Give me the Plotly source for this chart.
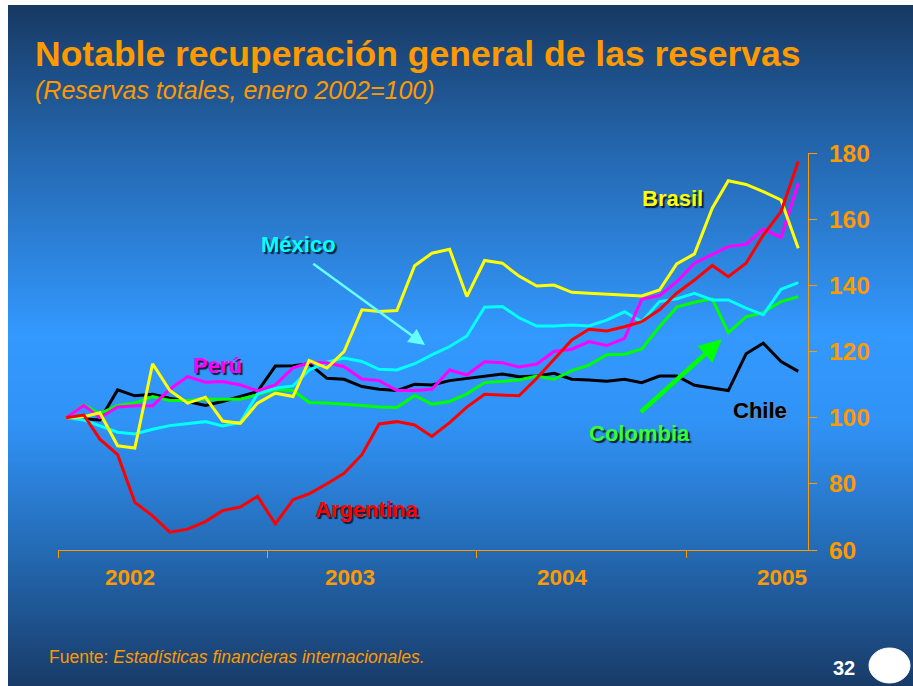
import base64
import struct
import zlib

import numpy as np
import plotly.graph_objects as go

# ---------------- data ----------------
months = [f"{y}-{m:02d}-15" for y in range(2002, 2006) for m in range(1, 13)][:43]

argentina = [100, 100.8, 93.5, 88.8, 74.4, 70.3, 65.4, 66.3, 68.6, 71.9, 73.0, 76.2,
             67.9, 75.2, 77.0, 80.0, 83.2, 88.8, 98.1, 98.8, 97.8, 94.3, 98.5, 103.2,
             107.1, 106.9, 106.6, 111.9, 117.5, 123.5, 126.7, 126.2, 127.5, 129.0, 132.6, 137.6,
             141.6, 146.0, 142.6, 146.7, 155.2, 162.3, 177.4]
brasil = [100, 100.3, 101.5, 91.5, 90.8, 116.3, 108.2, 104.4, 106.2, 99.0, 98.3, 104.4,
          107.4, 106.4, 117.3, 115.0, 120.0, 132.6, 132.1, 132.4, 145.9, 149.7, 150.9, 136.6,
          147.5, 146.7, 142.8, 139.8, 140.1, 137.9, 137.6, 137.3, 137.0, 136.8, 138.6, 146.5,
          149.5, 163.3, 171.6, 170.5, 168.3, 165.8, 151.2]
chile = [100, 99.7, 99.3, 108.4, 106.6, 107.1, 105.9, 104.9, 103.7, 104.9, 106.4, 107.9,
         115.6, 115.7, 116.3, 111.9, 111.6, 109.4, 108.6, 108.2, 110.1, 109.9, 111.2, 111.9,
         112.7, 113.2, 112.4, 112.6, 113.4, 111.6, 111.4, 111.0, 111.6, 110.6, 112.6, 112.6,
         109.8, 109.0, 108.2, 119.3, 122.5, 117.0, 114.0]
colombia = [100, 103.9, 101.2, 103.7, 104.4, 106.4, 105.2, 105.2, 105.6, 105.5, 105.6, 106.9,
            108.6, 108.2, 104.6, 104.4, 104.1, 103.7, 103.2, 103.1, 106.7, 104.1, 104.9, 107.2,
            110.6, 111.1, 111.4, 112.6, 111.6, 114.2, 115.9, 119.0, 119.2, 120.8, 127.5, 133.4,
            134.9, 135.9, 125.7, 130.5, 131.8, 135.1, 136.6]
mexico = [100, 99.3, 97.5, 95.6, 95.1, 96.5, 97.6, 98.3, 98.8, 97.5, 98.6, 107.2,
          108.9, 109.6, 114.4, 116.8, 118.0, 117.0, 114.6, 114.4, 116.3, 119.0, 121.5, 124.7,
          133.4, 133.6, 130.2, 127.7, 127.7, 128.0, 127.7, 129.5, 132.0, 129.0, 135.1, 135.9,
          137.6, 135.6, 135.6, 133.1, 131.1, 138.8, 140.8]
peru = [100, 103.7, 100.0, 103.2, 103.6, 103.6, 108.6, 112.4, 110.7, 110.9, 109.9, 108.1,
        109.9, 115.1, 116.6, 116.6, 115.4, 111.7, 111.2, 108.2, 108.2, 108.6, 114.4, 112.9,
        116.9, 116.6, 115.3, 116.2, 120.0, 120.7, 123.0, 121.8, 124.0, 135.8, 136.9, 141.1,
        146.7, 149.2, 151.7, 152.4, 157.0, 154.5, 170.8]

year_labels = ["2002", "2003", "2004", "2005"]
year_bounds = ["2002-01-01", "2003-01-01", "2004-01-01", "2005-01-01"]
y_ticks = [60, 80, 100, 120, 140, 160, 180]

# ---------------- layout helpers ----------------
W, H = 913, 686
L, R, T, B = 58, 808, 153, 550   # plot area in pixels


def px(xp):
    return (xp - L) / (R - L)


def py(yp):
    return (B - yp) / (B - T)


ORANGE = "#FF9900"
FONT = "Liberation Sans"

# gradient background png
stops_y = [0, 135, 330, 420, 545, 681]
stops_c = np.array([[23, 57, 98], [35, 100, 170], [51, 153, 255],
                    [48, 146, 245], [36, 106, 180], [24, 59, 103]], dtype=float)
rows = []
for r in range(681):
    rgb = [int(round(np.interp(r, stops_y, stops_c[:, k]))) for k in range(3)]
    rows.append(b"\x00" + bytes(rgb))
raw = b"".join(rows)


def chunk(tag, data):
    c = struct.pack(">I", len(data)) + tag + data
    return c + struct.pack(">I", zlib.crc32(tag + data) & 0xffffffff)


png = (b"\x89PNG\r\n\x1a\n" + chunk(b"IHDR", struct.pack(">IIBBBBB", 1, 681, 8, 2, 0, 0, 0))
       + chunk(b"IDAT", zlib.compress(raw)) + chunk(b"IEND", b""))
bg_src = "data:image/png;base64," + base64.b64encode(png).decode()

fig = go.Figure()

series = [
    ("Chile", chile, "#000000"),
    ("Colombia", colombia, "#00FF00"),
    ("México", mexico, "#00FFFF"),
    ("Perú", peru, "#FF00FF"),
    ("Brasil", brasil, "#FFFF00"),
    ("Argentina", argentina, "#FF0000"),
]
for name, vals, col in series:
    fig.add_trace(go.Scatter(x=months, y=vals, mode="lines", name=name,
                             line=dict(color=col, width=3), showlegend=False,
                             hoverinfo="skip"))

ann = []
# title & subtitle
ann.append(dict(text="<b>Notable recuperación general de las reservas</b>", x=px(33), y=py(54),
                xref="paper", yref="paper", xanchor="left", yanchor="middle", showarrow=False,
                font=dict(family=FONT, size=35.5, color=ORANGE)))
ann.append(dict(text="<i>(Reservas totales, enero 2002=100)</i>", x=px(33), y=py(90),
                xref="paper", yref="paper", xanchor="left", yanchor="middle", showarrow=False,
                font=dict(family=FONT, size=25, color=ORANGE)))
ann.append(dict(text="Fuente: <i>Estadísticas financieras internacionales.</i>", x=px(47), y=py(657),
                xref="paper", yref="paper", xanchor="left", yanchor="middle", showarrow=False,
                font=dict(family=FONT, size=17.5, color=ORANGE)))
ann.append(dict(text="<b>32</b>", x=px(844), y=py(668), xref="paper", yref="paper",
                xanchor="center", yanchor="middle", showarrow=False,
                font=dict(family=FONT, size=20, color="white")))
# year labels
for lab, xp in zip(year_labels, [130, 350, 562, 782]):
    ann.append(dict(text=f"<b>{lab}</b>", x=px(xp), y=py(577), xref="paper", yref="paper",
                    xanchor="center", yanchor="middle", showarrow=False,
                    font=dict(family=FONT, size=22.5, color=ORANGE)))
# series labels
shadow = "2px 2px 1px #0b1f3a"
for lab, col, (xp, yp), sh in [
    ("México", "#00FFFF", (298, 244), shadow),
    ("Perú", "#FF00FF", (217, 365), shadow),
    ("Argentina", "#FF0000", (366, 509), shadow),
    ("Brasil", "#FFFF00", (672, 198), shadow),
    ("Colombia", "#33FF33", (639, 433), shadow),
    ("Chile", "#000000", (760, 411), "1px 1px 1px #7a8aa0"),
]:
    ann.append(dict(text=f"<b>{lab}</b>", x=px(xp), y=py(yp), xref="paper", yref="paper",
                    xanchor="center", yanchor="middle", showarrow=False,
                    font=dict(family=FONT, size=22, color=col, shadow=sh)))
# arrows
ann.append(dict(text="", x=px(425), y=py(345), xref="paper", yref="paper",
                ax=311.7 - 425, ay=262.7 - 345, axref="pixel", ayref="pixel",
                showarrow=True, arrowhead=2, arrowsize=1.3, arrowwidth=2.5,
                arrowcolor="#66FFFF", standoff=0))
ann.append(dict(text="", x=px(721.7), y=py(339.3), xref="paper", yref="paper",
                ax=639.3 - 721.7, ay=413.3 - 339.3, axref="pixel", ayref="pixel",
                showarrow=True, arrowhead=2, arrowsize=1.0, arrowwidth=4.5,
                arrowcolor="#00FF00", standoff=0))

fig.update_layout(
    width=W, height=H,
    margin=dict(l=L, r=W - R, t=T, b=H - B, pad=0),
    paper_bgcolor="white", plot_bgcolor="rgba(0,0,0,0)",
    annotations=ann,
    images=[dict(source=bg_src, xref="paper", yref="paper", x=px(8), y=py(5),
                 sizex=(W - 8) / (R - L), sizey=(H - 5) / (B - T), xanchor="left",
                 yanchor="top", sizing="stretch", layer="below")],
    shapes=[dict(type="circle", xref="paper", yref="paper", x0=px(869), x1=px(910),
                 y0=py(683), y1=py(648), fillcolor="white", line=dict(color="white", width=1))],
    xaxis=dict(type="date", range=["2002-01-01", "2005-08-01"], tickvals=year_bounds,
               ticktext=["", "", "", ""], ticks="outside", ticklen=7, tickwidth=1,
               tickcolor=ORANGE, showline=True, linecolor=ORANGE, linewidth=1,
               showgrid=False, zeroline=False, fixedrange=True),
    yaxis=dict(range=[60, 180], tickvals=y_ticks, side="right", ticks="outside", ticklen=8,
               tickwidth=1, tickcolor=ORANGE, showline=True, linecolor=ORANGE, linewidth=1,
               showgrid=False, zeroline=False, ticklabelstandoff=7,
               tickfont=dict(family=FONT, size=24.5, color=ORANGE, weight="bold")),
)

fig.write_html("out.html", config={"displayModeBar": False},
               post_script="document.body.style.margin='0';")
